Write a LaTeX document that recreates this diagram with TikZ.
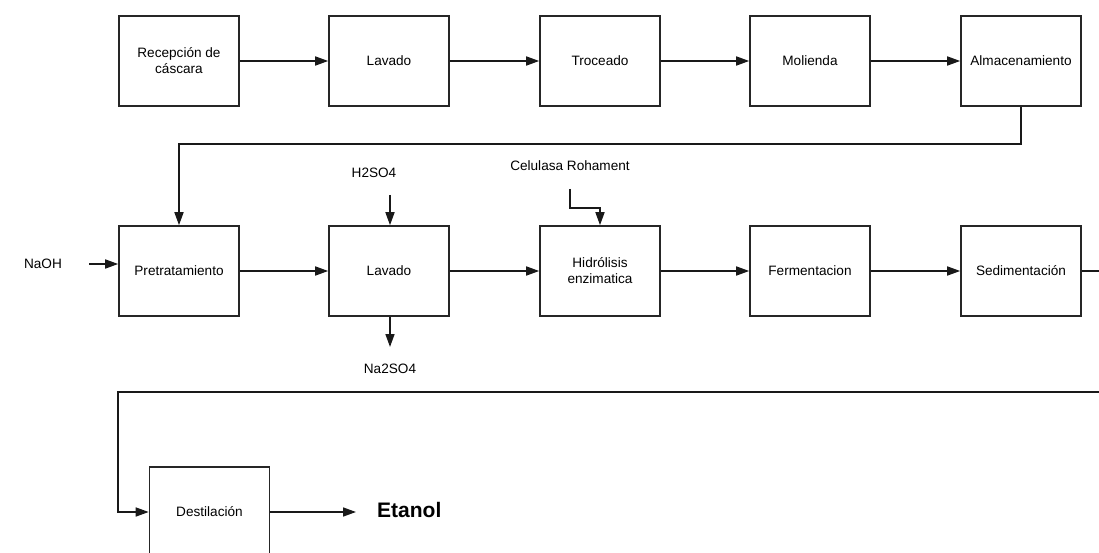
\documentclass[tikz,border=0pt]{standalone}
\usepackage{fontspec}
\setmainfont{Liberation Sans}
\usetikzlibrary{arrows.meta}
\begin{document}
\begin{tikzpicture}[x=1pt,y=-1pt,
  box/.style={draw=black!85,line width=1.6pt,minimum width=120pt,minimum height=90pt,align=center,font=\fontsize{13.6}{16}\selectfont,inner sep=0pt},
  lbl/.style={font=\fontsize{13.6}{16}\selectfont,inner sep=0pt},
  conn/.style={line width=1.6pt,draw=black!90},
  arr/.style={conn,-{Triangle[length=13pt,width=9pt]}}]
\useasboundingbox (0,0) rectangle (1099,553);
\clip (0,0) rectangle (1099,553);
% top row
\node[box] (rec) at (179,61) {Recepción de\\cáscara};
\node[box] (lav1) at (389,61) {Lavado};
\node[box] (tro) at (600,61) {Troceado};
\node[box] (mol) at (810,61) {Molienda};
\node[box] (alm) at (1021,61) {Almacenamiento};
% middle row
\node[box] (pre) at (179,271) {Pretratamiento};
\node[box] (lav2) at (389,271) {Lavado};
\node[box] (hid) at (600,271) {Hidrólisis\\enzimatica};
\node[box] (fer) at (810,271) {Fermentacion};
\node[box] (sed) at (1021,271) {Sedimentación};
% bottom
\node[box] (des) at (209.5,512) {Destilación};
% labels
\node[lbl] (naoh) at (43,264) {NaOH};
\node[lbl] (h2so4) at (374,173) {H2SO4};
\node[lbl] (na2so4) at (390,369) {Na2SO4};
\node[lbl] (cel) at (570,166) {Celulasa Rohament};
\node[font=\bfseries\fontsize{21}{25}\selectfont,inner sep=0pt,anchor=west] (eta) at (377,510) {Etanol};
% coordinates
\coordinate (naohS) at (89,264);
\coordinate (h2S) at (390,195);
\coordinate (naE) at (390,347);
\coordinate (celS) at (570,189);
\coordinate (celB) at (570,208);
\coordinate (edgeA) at (1106,271);
\coordinate (edgeB) at (1106,392);
\coordinate (leftB) at (118,392);
\coordinate (etaE) at (356,512);
% connectors
\draw[arr] (rec) -- (lav1);
\draw[arr] (lav1) -- (tro);
\draw[arr] (tro) -- (mol);
\draw[arr] (mol) -- (alm);
\draw[arr] (alm.south) -- ++(0,37.5) -| (pre.north);
\draw[arr] (naohS) -- (pre.west |- naohS);
\draw[arr] (pre) -- (lav2);
\draw[arr] (h2S) -- (h2S |- lav2.north);
\draw[arr] (naE |- lav2.south) -- (naE);
\draw[arr] (lav2) -- (hid);
\draw[arr] (celS) -- (celB) -| (hid.north);
\draw[arr] (hid) -- (fer);
\draw[arr] (fer) -- (sed);
\draw[conn] (sed.east) -- (edgeA);
\draw[arr] (edgeB) -- (leftB) |- (des.west);
\draw[arr] (des.east) -- (etaE);
\end{tikzpicture}
\end{document}
